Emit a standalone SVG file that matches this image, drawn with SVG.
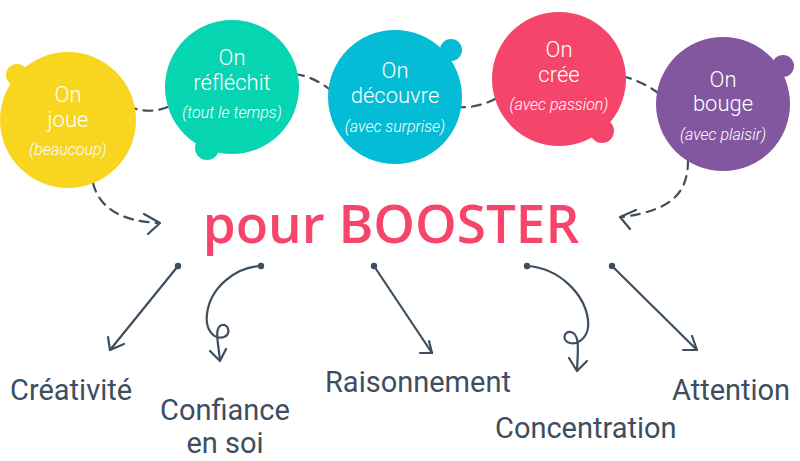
<svg xmlns="http://www.w3.org/2000/svg" width="800" height="461" viewBox="0 0 800 461">
<style>
.t{font-family:Roboto,"Liberation Sans",sans-serif;font-weight:300;fill:#fff;text-anchor:middle;font-size:22px}
.s{font-family:Roboto,"Liberation Sans",sans-serif;font-weight:300;font-style:italic;fill:#fff;text-anchor:middle;font-size:16px}
.lb{font-family:Roboto,"Liberation Sans",sans-serif;font-weight:400;fill:#3d4e60;font-size:29px}
.ln{fill:none;stroke:#3d4e60;stroke-width:2.2;stroke-linecap:round;stroke-linejoin:round}
.d{stroke-dasharray:9 7}
.dot{fill:#3d4e60}
</style>
<rect width="800" height="461" fill="#fff"/>
<g id="connectors">
<path class="ln d" d="M128,106 Q150,116 172,105"/>
<path class="ln d" d="M295,74 Q316,77 334,93"/>
<path class="ln d" d="M456,107 Q480,109 502,95"/>
<path class="ln d" d="M622,76 Q645,82 662,96"/>
<path class="ln d" d="M93,183 Q102,220 158,223"/>
<path class="ln" d="M144,214 L160,223 L148,234"/>
<path class="ln d" d="M688,160 C688,195 670,210 623,217"/>
<path class="ln" d="M636,210 L620,217 L630,229"/>
<circle class="dot" cx="178" cy="266" r="3.2"/>
<path class="ln" d="M178,266 L110,350"/>
<path class="ln" d="M108,337 L110,350 L124,344"/>
<circle class="dot" cx="261" cy="266" r="3.2"/>
<path class="ln" d="M261,266 C235,267 210,288 207,314 C205,330 214,340 224,337 C231,334 229,324 222,325 C214,327 218,342 220,360"/>
<path class="ln" d="M210,351 L220,361 L226,349"/>
<circle class="dot" cx="374" cy="266" r="3.2"/>
<path class="ln" d="M374,266 L432,353"/>
<path class="ln" d="M420,353 L432,353 L429,341"/>
<circle class="dot" cx="527" cy="266" r="3.2"/>
<path class="ln" d="M527,266 C560,268 585,295 588,320 C590,335 580,345 570,343 C562,341 563,331 571,332 C580,334 578,350 577,370"/>
<path class="ln" d="M569,358 L577,371 L587,361"/>
<circle class="dot" cx="612" cy="266" r="3.2"/>
<path class="ln" d="M612,266 L697,350"/>
<path class="ln" d="M683,350 L697,350 L692,336"/>
</g>
<g id="n-joue">
<circle cx="68" cy="120" r="68" fill="#f8d51e"/>
<circle cx="17" cy="75" r="11" fill="#f8d51e"/>
<text class="t" x="68" y="102">On</text>
<text class="t" x="68" y="127">joue</text>
<text class="s" x="68" y="155">(beaucoup)</text>
</g>
<g id="n-reflechit">
<circle cx="232" cy="87" r="67" fill="#07d4b1"/>
<circle cx="207" cy="148" r="12" fill="#07d4b1"/>
<text class="t" x="232" y="65">On</text>
<text class="t" x="232" y="90">réfléchit</text>
<text class="s" x="232" y="118">(tout le temps)</text>
</g>
<g id="n-decouvre">
<circle cx="395" cy="97" r="67" fill="#04bcd5"/>
<circle cx="451" cy="50" r="11" fill="#04bcd5"/>
<text class="t" x="395" y="78">On</text>
<text class="t" x="395" y="103">découvre</text>
<text class="s" x="395" y="132">(avec surprise)</text>
</g>
<g id="n-cree">
<circle cx="559" cy="79" r="67" fill="#f5456b"/>
<circle cx="602" cy="131" r="12" fill="#f5456b"/>
<text class="t" x="559" y="57">On</text>
<text class="t" x="559" y="82">crée</text>
<text class="s" x="559" y="110">(avec passion)</text>
</g>
<g id="n-bouge">
<circle cx="723" cy="104" r="67" fill="#82579f"/>
<circle cx="783" cy="66" r="11" fill="#82579f"/>
<text class="t" x="723" y="87">On</text>
<text class="t" x="723" y="111">bouge</text>
<text class="s" x="723" y="140">(avec plaisir)</text>
</g>
<g id="n-booster">
<text x="391" y="243" text-anchor="middle" font-family="'Open Sans',sans-serif" font-weight="600" font-size="53" fill="#f5456b">pour BOOSTER</text>
</g>
<g id="n-creativite"><text class="lb" x="10" y="400">Créativité</text></g>
<g id="n-confiance"><text class="lb" x="225" y="420" text-anchor="middle">Confiance</text><text class="lb" x="225" y="453" text-anchor="middle">en soi</text></g>
<g id="n-raisonnement"><text class="lb" x="325" y="392">Raisonnement</text></g>
<g id="n-concentration"><text class="lb" x="495" y="438">Concentration</text></g>
<g id="n-attention"><text class="lb" x="672" y="400">Attention</text></g>
</svg>
